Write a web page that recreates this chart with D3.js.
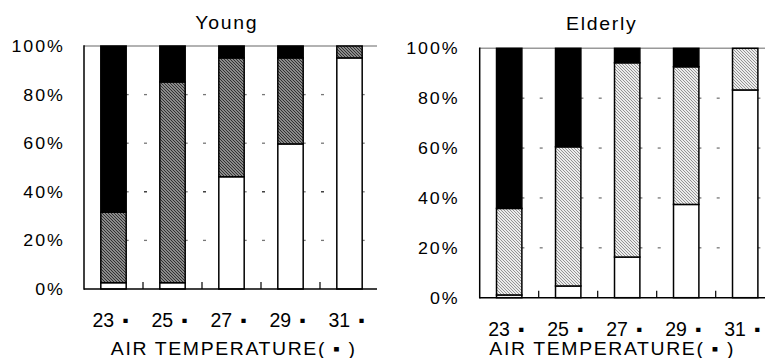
<!DOCTYPE html>
<html>
<head>
<meta charset="utf-8">
<script src="https://cdn.jsdelivr.net/npm/d3@7"></script>
<style>
  html, body { margin: 0; padding: 0; background: #fff; }
  svg { display: block; }
  text { font-family: "Liberation Sans", Arial, sans-serif; fill: #000; }
</style>
</head>
<body>
<svg id="chart" width="765" height="358"></svg>
<script>
// ---- data ----
const categories = ["23", "25", "27", "29", "31"];
const unitMark = "▪";
const panelTitles = ["Young", "Elderly"];
const axisTitle = "AIR TEMPERATURE( ▪ )";
const yTicks = [0, 20, 40, 60, 80, 100];
// stacked shares (%) : bottom white, middle hatched, top black
const youngWhite   = [2.6, 2.6, 46.2, 59.7, 95.1];
const youngHatched = [29.0, 82.6, 48.9, 35.4, 4.9];
const youngBlack   = [68.4, 14.8, 4.9, 4.9, 0];
const elderlyWhite   = [1.1, 4.7, 16.3, 37.4, 83.3];
const elderlyHatched = [34.7, 55.8, 77.9, 55.2, 16.7];
const elderlyBlack   = [64.2, 39.5, 5.8, 7.4, 0];

const svg = d3.select("#chart");
const defs = svg.append("defs");

// hatch patterns
function hatch(id, bg, line, w, sw) {
  const p = defs.append("pattern").attr("id", id)
    .attr("patternUnits", "userSpaceOnUse").attr("width", w).attr("height", w);
  p.append("rect").attr("width", w).attr("height", w).attr("fill", bg);
  p.append("path").attr("d", `M0,0 L${w},${w} M${-w},0 L${w},${2*w} M0,${-w} L${2*w},${w}`)
    .attr("stroke", line).attr("stroke-width", sw);
}
hatch("hatchYoung", "#b0b0b0", "#2a2a2a", 3, 1.1);
hatch("hatchElderly", "#ececec", "#8a8a8a", 3, 0.9);

const panels = [
  { title: panelTitles[0], white: youngWhite, hatched: youngHatched, black: youngBlack,
    left: 84, top: 46, bottom: 289, axisEnd: 377, labelRight: 63,
    titleX: 226, titleY: 28.5, xLabY: 326.5, axTitleX: 233, pattern: "hatchYoung" },
  { title: panelTitles[1], white: elderlyWhite, hatched: elderlyHatched, black: elderlyBlack,
    left: 479.7, top: 48.3, bottom: 297.7, axisEnd: 766, labelRight: 457.7,
    titleX: 601, titleY: 30, xLabY: 335.5, axTitleX: 611.5, pattern: "hatchElderly" }
];

const step = 59;
const sx = 1.08; // horizontal stretch of the reference lettering

function stretchedText(g, x, y, anchor, size, str, ls) {
  const t = g.append("text")
    .attr("transform", `translate(${anchor === "end" ? x + ls : x + ls / 2},${y}) scale(${sx},1)`)
    .attr("text-anchor", anchor).style("font-size", size + "px")
    .style("letter-spacing", ls + "px")
    .text(str);
  return t;
}

panels.forEach(P => {
  const g = svg.append("g");
  const x = d3.scaleBand().domain(categories)
    .range([P.left, P.left + step * categories.length])
    .paddingInner(0.57).paddingOuter(0.285);
  const y = d3.scaleLinear().domain([0, 100]).range([P.bottom, P.top]);
  const bw = x.bandwidth();

  // gridlines (dashed fragments) at 20..80
  yTicks.filter(t => t > 0 && t < 100).forEach(t => {
    categories.forEach((c, i) => {
      if (i > 0) {
        const b = x(c) - (step - bw) / 2;
        g.append("line").attr("x1", b + 1).attr("x2", b + 4)
          .attr("y1", y(t)).attr("y2", y(t))
          .attr("stroke", t === 40 && P.title === "Young" ? "#222" : "#777").attr("stroke-width", 1.3);
      }
      g.append("line").attr("x1", x(c) + bw).attr("x2", x(c) + bw + 2.5)
        .attr("y1", y(t)).attr("y2", y(t))
        .attr("stroke", "#777").attr("stroke-width", 1.3);
    });
  });

  // top gridline (100%)
  g.append("line").attr("x1", P.left).attr("x2", P.axisEnd)
    .attr("y1", y(100)).attr("y2", y(100))
    .attr("stroke", "#999").attr("stroke-width", 1.6);

  // stacked bars
  const rows = categories.map((c, i) => ({ c, w: P.white[i], h: P.hatched[i], b: P.black[i] }));
  rows.forEach(r => {
    const segs = [
      { y0: 0, y1: r.w, fill: "#fff" },
      { y0: r.w, y1: r.w + r.h, fill: `url(#${P.pattern})` },
      { y0: r.w + r.h, y1: r.w + r.h + r.b, fill: "#000" }
    ];
    segs.filter(s => s.y1 - s.y0 > 0.01).forEach(s => {
      g.append("rect")
        .attr("x", x(r.c)).attr("width", bw)
        .attr("y", y(Math.min(s.y1, 100))).attr("height", y(s.y0) - y(Math.min(s.y1, 100)))
        .attr("fill", s.fill).attr("stroke", "#000").attr("stroke-width", 1.5);
    });
  });

  // axes
  g.append("line").attr("x1", P.left).attr("x2", P.left)
    .attr("y1", y(100) - 0.8).attr("y2", y(0) + 0.8)
    .attr("stroke", "#000").attr("stroke-width", 1.5);
  g.append("line").attr("x1", P.left).attr("x2", P.axisEnd)
    .attr("y1", y(0)).attr("y2", y(0))
    .attr("stroke", "#000").attr("stroke-width", 1.5);
  // bottom ticks at category boundaries
  categories.forEach((c, i) => {
    if (i === 0) return;
    const b = x(c) - (step - bw) / 2;
    g.append("line").attr("x1", b).attr("x2", b)
      .attr("y1", y(0)).attr("y2", y(0) - 7)
      .attr("stroke", "#000").attr("stroke-width", 1.2);
  });

  // y tick labels
  yTicks.forEach(t => {
    stretchedText(g, P.labelRight, y(t) + 5.9, "end", 16.5, t + "%", 1.8);
  });

  // x tick labels
  categories.forEach(c => {
    const t = g.append("text").attr("x", x(c) + bw / 2 - 3).attr("y", P.xLabY)
      .attr("text-anchor", "middle").style("font-size", "19.5px");
    t.append("tspan").text(c + " ");
    t.append("tspan").style("font-size", "17px").attr("dx", 3).attr("dy", -1).text(unitMark);
  });

  // axis title
  stretchedText(g, P.axTitleX, 354.5, "middle", 18, axisTitle, 1.5);

  // panel title
  stretchedText(g, P.titleX, P.titleY, "middle", 18, P.title, 1.6);
});
</script>
</body>
</html>
